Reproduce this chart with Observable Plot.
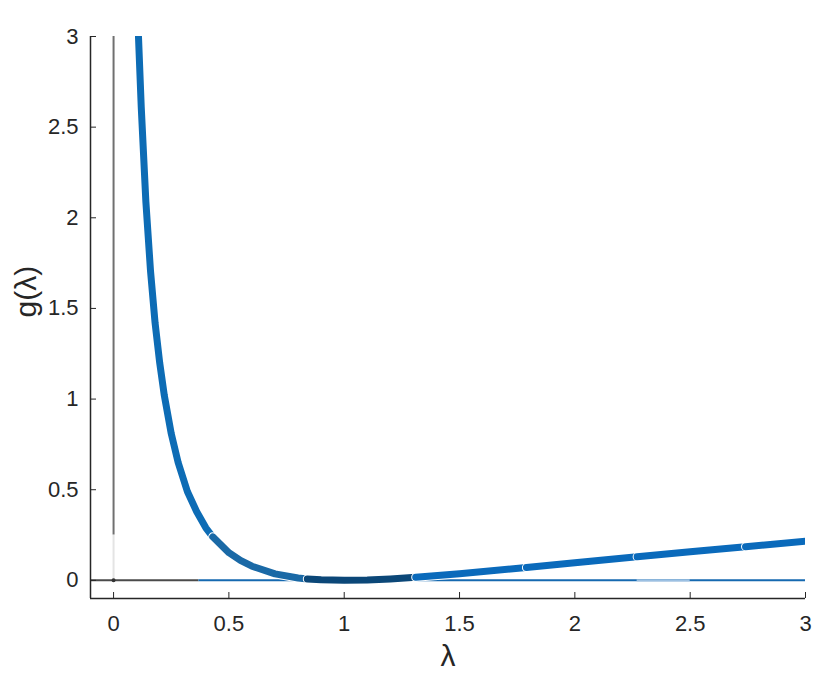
<!DOCTYPE html>
<html>
<head>
<meta charset="utf-8">
<script src="https://cdn.jsdelivr.net/npm/d3@7"></script>
<script src="https://cdn.jsdelivr.net/npm/@observablehq/plot@0.6"></script>
<style>
  html, body { margin: 0; padding: 0; background: #fff; }
</style>
</head>
<body>
<div id="chart"></div>
<script>
// λ values
const lambda = [0.108, 0.12, 0.14, 0.16, 0.18, 0.20, 0.22, 0.25, 0.28, 0.32, 0.36, 0.40, 0.43,
                0.50, 0.55, 0.60, 0.70, 0.80, 0.84, 0.90, 1.00, 1.10, 1.20, 1.31,
                1.50, 1.79, 2.00, 2.27, 2.50, 2.74, 3.00];
// g(λ) values
const gValues = [3.00, 2.61, 2.09, 1.71, 1.42, 1.20, 1.02, 0.81, 0.65, 0.49, 0.38, 0.29, 0.24,
                 0.153, 0.11, 0.078, 0.036, 0.013, 0.008, 0.003, 0.000, 0.002, 0.008, 0.017,
                 0.036, 0.071, 0.097, 0.130, 0.158, 0.186, 0.216];
// the curve is drawn as several pieces, split at these λ values
const segmentBreaks = [0.108, 0.43, 0.84, 1.31, 1.79, 2.27, 2.74, 3.00];
const segmentColors = ["#0d6cb5", "#1a69a6", "#0b4778", "#0a6abb", "#0a6abb", "#0a6abb", "#0a6abb"];

// reference lines
const zeroLineLeft = [-0.1, 0.37];     // dark horizontal line at g = 0
const zeroLineRight = [0.37, 3.0];     // thin blue line at g = 0
const zeroLineFaded = [2.27, 2.50];    // lighter portion of the thin line
const verticalLine = [0.25, 3.0];      // grey vertical line at λ = 0 (y range)
const verticalFaint = [0.0, 0.25];

const xTicks = [0, 0.5, 1, 1.5, 2, 2.5, 3];
const yTicks = [0, 0.5, 1, 1.5, 2, 2.5, 3];

const points = lambda.map((l, i) => ({l, g: gValues[i]}));
const segments = segmentColors.map((c, i) =>
  points.filter(p => p.l >= segmentBreaks[i] - 1e-9 && p.l <= segmentBreaks[i + 1] + 1e-9));

const font = "'Liberation Sans', Arial, Helvetica, sans-serif";
const ink = "#262626";

const segMarks = [];
segments.forEach((seg, i) => {
  segMarks.push(Plot.line(seg, {x: "l", y: "g", stroke: "white", strokeWidth: 9,
    strokeLinecap: "round", strokeLinejoin: "round", clip: true}));
  segMarks.push(Plot.line(seg, {x: "l", y: "g", stroke: segmentColors[i], strokeWidth: 7,
    strokeLinecap: "round", strokeLinejoin: "round", clip: true}));
});

const chart = Plot.plot({
  width: 830,
  height: 682,
  marginLeft: 90,
  marginRight: 25,
  marginTop: 36,
  marginBottom: 84,
  style: {fontFamily: font, fontSize: "22px", color: ink, background: "white"},
  x: {domain: [-0.1, 3]},
  y: {domain: [-0.1, 3]},
  marks: [
    // faint lower part of vertical line
    Plot.ruleX([0], {y1: verticalFaint[0], y2: verticalFaint[1], stroke: "#e4e4e4", strokeWidth: 2}),
    // grey vertical line at λ = 0
    Plot.ruleX([0], {y1: verticalLine[0], y2: verticalLine[1], stroke: "#707070", strokeWidth: 2}),
    // dark horizontal line at g = 0 (left part)
    Plot.ruleY([0], {x1: zeroLineLeft[0], x2: zeroLineLeft[1], stroke: "#4a4a4a", strokeWidth: 2}),
    // thin blue line at g = 0
    Plot.ruleY([0], {x1: zeroLineRight[0], x2: zeroLineRight[1], stroke: "#1569b0", strokeWidth: 2}),
    Plot.ruleY([0], {x1: zeroLineFaded[0], x2: zeroLineFaded[1], stroke: "#9cc0e2", strokeWidth: 2}),
    Plot.dot([[0, 0]], {x: d => d[0], y: d => d[1], r: 2, fill: "#333", stroke: "none"}),
    ...segMarks,
    // spines
    Plot.ruleY([-0.1], {stroke: ink, strokeWidth: 1.5}),
    Plot.ruleX([-0.1], {stroke: ink, strokeWidth: 1.5}),
    // axes with inward ticks
    Plot.axisX(xTicks, {tickSize: -6, tickPadding: 23, tickFormat: d => String(d),
      label: null, stroke: ink, fill: ink, fontSize: 22}),
    Plot.axisY(yTicks, {tickSize: -6, tickPadding: 18, tickFormat: d => String(d),
      label: null, stroke: ink, fill: ink, fontSize: 22}),
    // axis titles
    Plot.text(["λ"], {text: d => d, frameAnchor: "bottom", dy: 67, fontSize: 30, fill: ink}),
    Plot.text(["g(λ)"], {text: d => d, frameAnchor: "left", dx: -64, rotate: -90, fontSize: 30, fill: ink})
  ]
});

document.getElementById("chart").appendChild(chart);
</script>
</body>
</html>
